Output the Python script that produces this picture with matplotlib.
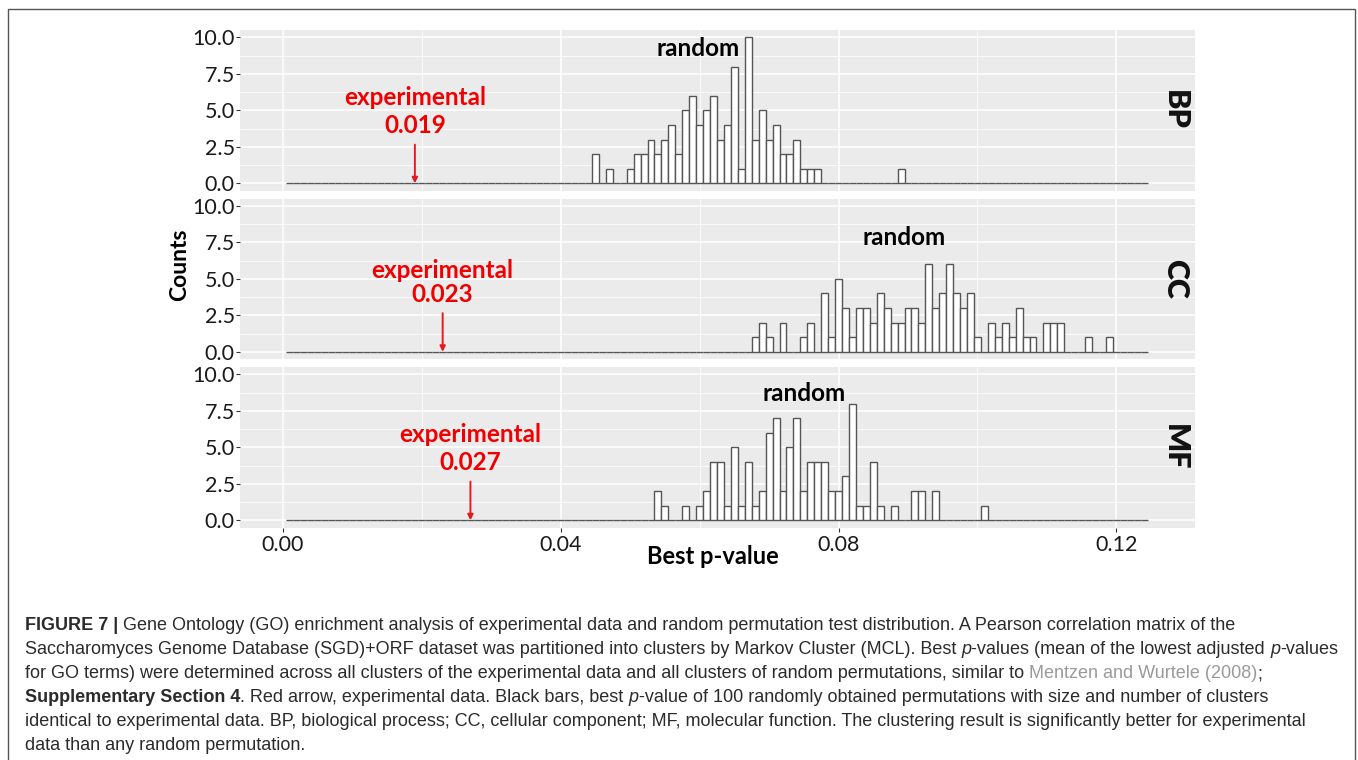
import numpy as np
import matplotlib
matplotlib.use("Agg")
import matplotlib.pyplot as plt
from matplotlib.patches import Rectangle

# ---------------- data ----------------
categories = ["BP", "CC", "MF"]
experimental = [0.019, 0.023, 0.027]
experimental_labels = ["0.019", "0.023", "0.027"]

# bin centres (in units of 0.001) and counts of the 100 random permutations
bp_bins = [45, 47, 50, 51, 52, 53, 54, 55, 56, 57, 58, 59, 60, 61, 62, 63, 64, 65, 66, 67,
           68, 69, 70, 71, 72, 73, 74, 75, 76, 77, 89]
bp_counts = [2, 1, 1, 2, 2, 3, 2, 3, 4, 2, 5, 6, 4, 5, 6, 3, 4, 8, 1, 10,
             3, 5, 3, 4, 2, 2, 3, 1, 1, 1, 1]
cc_bins = [68, 69, 70, 72, 75, 76, 78, 79, 80, 81, 82, 83, 84, 85, 86, 87, 88, 89, 90, 91,
           92, 93, 94, 95, 96, 97, 98, 99, 100, 102, 103, 104, 105, 106, 107, 108, 110, 111,
           112, 116, 119]
cc_counts = [1, 2, 1, 2, 1, 2, 4, 1, 5, 3, 1, 3, 3, 2, 4, 3, 2, 2, 3, 3,
             2, 6, 3, 4, 6, 4, 3, 4, 1, 2, 1, 2, 1, 3, 1, 1, 2, 2,
             2, 1, 1]
mf_bins = [54, 55, 58, 60, 61, 62, 63, 64, 65, 66, 67, 68, 69, 70, 71, 72, 73, 74, 75, 76,
           77, 78, 79, 80, 81, 82, 83, 84, 85, 86, 88, 91, 92, 94, 101]
mf_counts = [2, 1, 1, 1, 2, 4, 4, 1, 5, 1, 4, 1, 2, 6, 7, 2, 5, 7, 2, 4,
             4, 4, 2, 2, 3, 8, 1, 1, 4, 1, 1, 2, 2, 2, 1]

random_label_x = [0.0598, 0.0894, 0.0751]
random_label_y = [9.2, 7.8, 8.7]
exp_label_y = [5.85, 5.55, 5.85]
exp_value_y = [3.95, 3.9, 3.95]

x_ticks = [0.00, 0.04, 0.08, 0.12]
x_tick_labels = ["0.00", "0.04", "0.08", "0.12"]
y_ticks = [0.0, 2.5, 5.0, 7.5, 10.0]
y_tick_labels = ["0.0", "2.5", "5.0", "7.5", "10.0"]

bin_width = 0.001
n_bins = 124          # bins centred on 0.001 ... 0.124

caption_lines = [
    [("FIGURE 7 | ", "bold", "normal", "main"),
     ("Gene Ontology (GO) enrichment analysis of experimental data and random permutation test distribution. A Pearson correlation matrix of the", "normal", "normal", "main")],
    [("Saccharomyces Genome Database (SGD)+ORF dataset was partitioned into clusters by Markov Cluster (MCL). Best ", "normal", "normal", "main"),
     ("p", "normal", "italic", "main"),
     ("-values (mean of the lowest adjusted ", "normal", "normal", "main"),
     ("p", "normal", "italic", "main"),
     ("-values", "normal", "normal", "main")],
    [("for GO terms) were determined across all clusters of the experimental data and all clusters of random permutations, similar to ", "normal", "normal", "main"),
     ("Mentzen and Wurtele (2008)", "normal", "normal", "link"),
     (";", "normal", "normal", "main")],
    [("Supplementary Section 4", "bold", "normal", "main"),
     (". Red arrow, experimental data. Black bars, best ", "normal", "normal", "main"),
     ("p", "normal", "italic", "main"),
     ("-value of 100 randomly obtained permutations with size and number of clusters", "normal", "normal", "main")],
    [("identical to experimental data. BP, biological process; CC, cellular component; MF, molecular function. The clustering result is significantly better for experimental", "normal", "normal", "main")],
    [("data than any random permutation.", "normal", "normal", "main")],
]

# ---------------- figure ----------------
W, H = 1358, 760
DPI = 100
fig = plt.figure(figsize=(W / DPI, H / DPI), dpi=DPI)
fig.patch.set_facecolor("white")

chart_font = ["Lato", "DejaVu Sans"]
cap_font = ["Liberation Sans Narrow", "Liberation Sans", "DejaVu Sans"]

# outer frame
fig.add_artist(Rectangle((7.5 / W, -0.01), (1354.5 - 7.5) / W, (H - 9.0) / H + 0.01,
                         transform=fig.transFigure, fill=False,
                         edgecolor="#555555", linewidth=1.0))

xlim = (-0.00625, 0.13125)
ylim = (-0.5, 10.5)
panel_left, panel_right = 239.5, 1194.5
panel_tops = [30.0, 198.5, 367.0]
panel_h = 160.6

all_bins = [bp_bins, cc_bins, mf_bins]
all_counts = [bp_counts, cc_counts, mf_counts]

centres = (np.arange(1, n_bins + 1)) * bin_width

for i, cat in enumerate(categories):
    top = panel_tops[i]
    ax = fig.add_axes([panel_left / W, (H - top - panel_h) / H,
                       (panel_right - panel_left) / W, panel_h / H])
    ax.set_facecolor("#EBEBEB")
    for s in ax.spines.values():
        s.set_visible(False)
    ax.set_xlim(*xlim)
    ax.set_ylim(*ylim)
    ax.set_xticks(x_ticks)
    ax.set_xticks([0.02, 0.06, 0.10], minor=True)
    ax.set_yticks(y_ticks)
    ax.set_yticks([1.25, 3.75, 6.25, 8.75], minor=True)
    ax.grid(which="major", color="white", linewidth=1.1)
    ax.grid(which="minor", color="white", linewidth=0.55)
    ax.set_axisbelow(True)
    ax.set_yticklabels(y_tick_labels, fontsize=15.5, color="#1a1a1a", family=chart_font)
    ax.tick_params(axis="y", which="major", length=3, width=0.8, color="#333333", pad=0.5)
    ax.tick_params(which="minor", length=0)
    if i < 2:
        ax.tick_params(axis="x", which="major", length=0, labelbottom=False)
    else:
        ax.set_xticklabels(x_tick_labels, fontsize=15.5, color="#1a1a1a", family=chart_font)
        ax.tick_params(axis="x", which="major", length=3, width=0.8, color="#333333", pad=2)

    counts = np.zeros(n_bins)
    for b, c in zip(all_bins[i], all_counts[i]):
        counts[b - 1] = c
    ax.bar(centres, counts, width=bin_width, color="white",
           edgecolor="#555555", linewidth=1.0, zorder=3)

    # experimental annotation
    xe = experimental[i]
    ax.annotate("", xy=(xe, 0.0), xytext=(xe, 2.65),
                arrowprops=dict(arrowstyle="-|>", color="#e8191c", lw=1.4,
                                mutation_scale=8, shrinkA=0, shrinkB=0), zorder=5)
    ax.text(xe, exp_label_y[i], "experimental", color="#f00000", fontsize=17.5,
            fontweight="bold", ha="center", va="center", family=chart_font, zorder=6)
    ax.text(xe, exp_value_y[i], experimental_labels[i], color="#f00000", fontsize=17.5,
            fontweight="bold", ha="center", va="center", family=chart_font, zorder=6)
    ax.text(random_label_x[i], random_label_y[i], "random", color="black", fontsize=17.5,
            fontweight="bold", ha="center", va="center", family=chart_font, zorder=6)

    # facet label
    ax.text(0.1284, 5.0, cat, rotation=-90, fontsize=22, fontweight="heavy",
            ha="center", va="center", family=chart_font, color="#111111", zorder=6)

fig.text(180 / W, 1 - 265 / H, "Counts", rotation=90, fontsize=16.5, fontweight="bold",
         ha="center", va="center", family=chart_font)
fig.text(713 / W, 1 - 556 / H, "Best p-value", fontsize=17, fontweight="bold",
         ha="center", va="center", family=chart_font)

# ---------------- caption ----------------
colors = {"main": "#2b2b2b", "link": "#9a9a9a"}
renderer = fig.canvas.get_renderer()
line_baseline = [630.5, 654.5, 678.5, 702.5, 726, 750]
cap_size = 13.0
for ly, runs in zip(line_baseline, caption_lines):
    x = 25.0
    for text, weight, style, ckey in runs:
        t = fig.text(x / W, 1 - ly / H, text, fontsize=cap_size, fontweight=weight,
                     fontstyle=style, color=colors[ckey], family=cap_font,
                     ha="left", va="baseline")
        bb = t.get_window_extent(renderer=renderer)
        x += bb.width

fig.savefig("out.png", dpi=DPI, facecolor="white")
